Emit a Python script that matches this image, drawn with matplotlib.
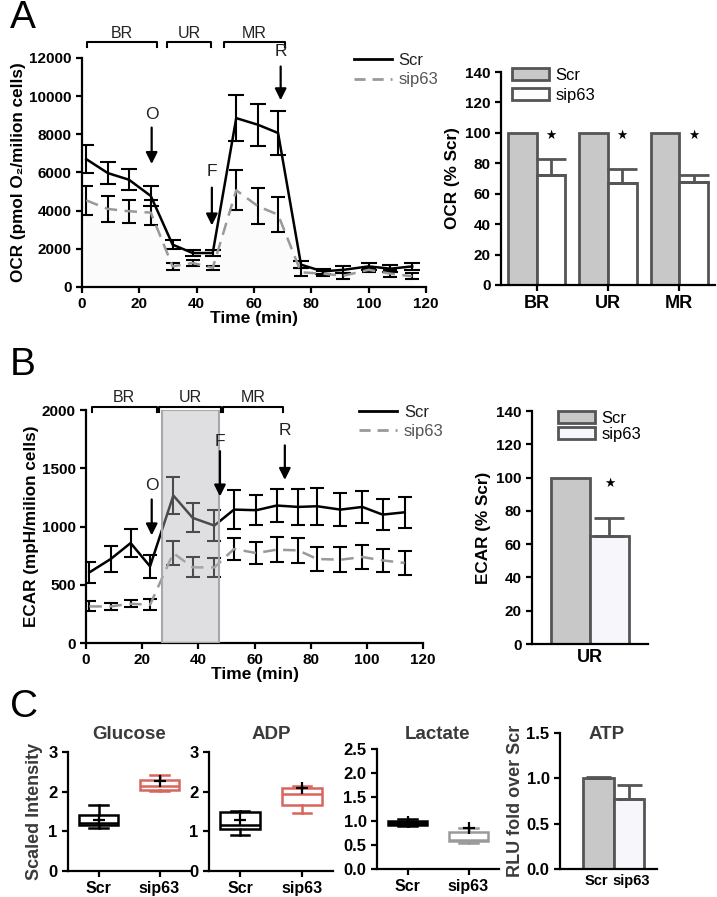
import matplotlib
matplotlib.use('Agg')
import matplotlib.pyplot as plt
from matplotlib.lines import Line2D
import numpy as np

plt.rcParams['font.family'] = ['Liberation Sans', 'DejaVu Sans']
plt.rcParams['axes.linewidth'] = 1.6
plt.rcParams['xtick.major.width'] = 1.6
plt.rcParams['ytick.major.width'] = 1.6
plt.rcParams['xtick.major.size'] = 4
plt.rcParams['ytick.major.size'] = 4

# --- panel A: OCR kinetic trace
ocr_time = [1.5, 9, 16.4, 24, 31.6, 38.6, 45.6, 53.8, 61.4, 68.4, 76.4, 83.9, 91.2, 100, 107.6, 115.2]
ocr_scr = [6700, 5970, 5620, 4770, 2220, 1780, 1780, 8850, 8500, 8070, 1170, 820, 900, 1080, 960, 1080]
ocr_scr_err = [750, 570, 540, 520, 250, 150, 150, 1200, 1100, 1150, 200, 120, 180, 180, 200, 200]
ocr_sip = [4540, 4090, 3970, 3900, 1080, 1260, 1000, 5070, 4230, 3790, 770, 700, 590, 900, 700, 560]
ocr_sip_err = [750, 700, 600, 640, 200, 150, 100, 1050, 950, 900, 200, 120, 150, 120, 180, 150]

# --- panel A: OCR % of Scr
ocr_groups = ['BR', 'UR', 'MR']
ocr_pct_scr = [100, 100, 100]
ocr_pct_sip = [72, 67, 68]
ocr_pct_sip_err = [11, 9, 4]

# --- panel B: ECAR kinetic trace
ecar_time = [1.2, 8.8, 15.9, 22.8, 31.1, 38, 45.7, 52.7, 60.7, 67.9, 75.6, 82.3, 90.6, 98.4, 105.6, 113.5]
ecar_scr = [606, 721, 858, 658, 1266, 1074, 1008, 1145, 1140, 1180, 1168, 1174, 1145, 1168, 1102, 1122]
ecar_scr_err = [90, 110, 120, 100, 160, 125, 130, 165, 130, 145, 155, 160, 140, 140, 130, 135]
ecar_sip = [314, 314, 337, 328, 772, 649, 649, 807, 772, 801, 795, 721, 715, 738, 709, 687]
ecar_sip_err = [43, 30, 30, 48, 105, 85, 80, 95, 92, 110, 110, 105, 105, 100, 100, 100]

# --- panel B: ECAR % of Scr
ecar_groups = ['UR']
ecar_pct_scr = [100]
ecar_pct_sip = [65]
ecar_pct_sip_err = [10.5]

# --- panel C: box stats (whislo, q1, med, q3, whishi, mean)
box_labels = ['Scr', 'sip63']
glucose_scr = [1.09, 1.15, 1.22, 1.40, 1.67, 1.28]
glucose_sip = [2.02, 2.03, 2.15, 2.29, 2.41, 2.27]
adp_scr = [0.90, 1.05, 1.15, 1.50, 1.52, 1.29]
adp_sip = [1.45, 1.67, 1.94, 2.09, 2.15, 2.08]
lactate_scr = [0.89, 0.91, 0.96, 1.01, 1.04, 0.97]
lactate_sip = [0.55, 0.59, 0.60, 0.77, 0.86, 0.85]

# --- panel C: ATP
atp_vals = [1.0, 0.77]
atp_err = [0.01, 0.155]

W, H = 717, 897
fig = plt.figure(figsize=(W / 100, H / 100), dpi=100)
TXT = '#3a3a3a'


def add_ax(l, t, r, b):
    # pixel box -> figure fraction
    return fig.add_axes([l / W, 1 - b / H, (r - l) / W, (b - t) / H])


def style(ax, size=11):
    for s in ['top', 'right']:
        ax.spines[s].set_visible(False)
    ax.tick_params(labelsize=size)
    for lab in ax.get_xticklabels() + ax.get_yticklabels():
        lab.set_fontweight('bold')


def bracket(ax, x0, x1, y_top, y_low, y_text, label):
    ax.plot([x0, x0, x1, x1], [y_low, y_top, y_top, y_low], color='black', lw=1.5, clip_on=False, zorder=10)
    ax.text((x0 + x1) / 2, y_text, label, ha='center', va='center', fontsize=11.5, color='#222222')


def arrow(ax, x, y_tail, y_tip, y_text, label):
    ax.annotate('', xy=(x, y_tip), xytext=(x, y_tail),
                arrowprops=dict(arrowstyle='-|>', color='black', lw=1.6, mutation_scale=17),
                annotation_clip=False, zorder=10)
    ax.text(x, y_text, label, ha='center', va='center', fontsize=12.5, color='#222222', zorder=10)


def line_legend(ax, anchor):
    h = [Line2D([], [], color='black', lw=2),
         Line2D([], [], color='#999999', lw=2, ls=(0, (4, 2.5)))]
    ax.legend(h, ['Scr', 'sip63'], loc='upper left', bbox_to_anchor=anchor, frameon=False,
              fontsize=12, handlelength=2.3, borderaxespad=0, labelspacing=0.25, handletextpad=0.4,
              labelcolor=['#222222', '#555555'])


# ================= A left =================
ax = add_ax(82, 58, 426, 287)
ax.fill_between(ocr_time, ocr_sip, 0, color='#fbfbfb', zorder=0)
ax.errorbar(ocr_time, ocr_sip, yerr=ocr_sip_err, color='#999999', ls=(0, (5, 3)), lw=1.8,
            ecolor='black', elinewidth=1.5, capsize=5, capthick=1.5)
ax.errorbar(ocr_time, ocr_scr, yerr=ocr_scr_err, color='black', lw=1.8,
            ecolor='black', elinewidth=1.5, capsize=6, capthick=1.5)
ax.set_xlim(0, 120)
ax.set_ylim(0, 12000)
ax.set_xticks(range(0, 121, 20))
ax.set_yticks(range(0, 12001, 2000))
ax.set_xlabel('Time (min)', fontsize=12.5, fontweight='bold', labelpad=0)
ax.set_ylabel('OCR (pmol O\u2082/milion cells)', fontsize=12.3, fontweight='bold', labelpad=2)
style(ax)
bracket(ax, 1.8, 26.3, 12820, 12600, 13260, 'BR')
bracket(ax, 29.8, 45, 12820, 12600, 13260, 'UR')
bracket(ax, 49.5, 70.8, 12820, 12600, 13260, 'MR')
arrow(ax, 24.3, 8500, 6300, 9050, 'O')
arrow(ax, 45.3, 5350, 3080, 6070, 'F')
arrow(ax, 69.3, 11700, 9640, 12350, 'R')
line_legend(ax, (0.77, 1.05))

# ================= A right =================
ax = add_ax(501, 72, 715, 285)
x = np.arange(len(ocr_groups))
ax.bar(x - 0.2, ocr_pct_scr, 0.4, color='#c8c8c8', edgecolor='#555555', lw=2, label='Scr')
ax.bar(x + 0.2, ocr_pct_sip, 0.4, color='white', edgecolor='#555555', lw=2, label='sip63',
       yerr=[np.zeros(3), ocr_pct_sip_err], error_kw=dict(ecolor='#555555', elinewidth=2, capsize=11, capthick=2))
for xi in x:
    ax.text(xi + 0.2, 98, '\u2605', ha='center', va='center', fontsize=9, family='DejaVu Sans')
ax.set_xlim(-0.5, 2.5)
ax.set_ylim(0, 140)
ax.set_xticks(x)
ax.set_xticklabels(ocr_groups)
ax.set_yticks(range(0, 141, 20))
ax.set_ylabel('OCR (% Scr)', fontsize=12.3, fontweight='bold')
style(ax)
ax.tick_params(axis='x', labelsize=13)
ax.legend(loc='upper left', bbox_to_anchor=(0.02, 1.05), frameon=False, fontsize=12,
          handlelength=2.2, handleheight=0.7, borderaxespad=0, labelspacing=0.3, handletextpad=0.4)

# ================= B left =================
ax = add_ax(86, 410, 423, 643)
ax.errorbar(ecar_time, ecar_sip, yerr=ecar_sip_err, color='#999999', ls=(0, (5, 3)), lw=1.8,
            ecolor='black', elinewidth=1.5, capsize=5, capthick=1.5)
ax.errorbar(ecar_time, ecar_scr, yerr=ecar_scr_err, color='black', lw=1.8,
            ecolor='black', elinewidth=1.5, capsize=5, capthick=1.5)
ax.axvspan(27.2, 47.3, ymin=0, ymax=1, facecolor=(0.70, 0.71, 0.73, 0.42),
           edgecolor='#a8a8a8', lw=1.5, zorder=5)
ax.set_xlim(0, 120)
ax.set_ylim(0, 2000)
ax.set_xticks(range(0, 121, 20))
ax.set_yticks(range(0, 2001, 500))
ax.set_xlabel('Time (min)', fontsize=12.5, fontweight='bold', labelpad=0)
ax.set_ylabel('ECAR (mpH/milion cells)', fontsize=12.3, fontweight='bold', labelpad=2)
style(ax)
bracket(ax, 2, 25.2, 2025, 1985, 2110, 'BR')
bracket(ax, 26.1, 47.9, 2025, 1985, 2110, 'UR')
bracket(ax, 48.9, 70.2, 2025, 1985, 2110, 'MR')
arrow(ax, 23.4, 1256, 900, 1348, 'O')
arrow(ax, 47.7, 1670, 1234, 1728, 'F')
arrow(ax, 70.8, 1720, 1376, 1820, 'R')
line_legend(ax, (0.79, 1.05))

# ================= B right =================
ax = add_ax(532, 411, 648, 644)
ax.bar([-0.25], ecar_pct_scr, 0.5, color='#c8c8c8', edgecolor='#555555', lw=2, label='Scr')
ax.bar([0.25], ecar_pct_sip, 0.5, color='#f7f7fb', edgecolor='#555555', lw=2, label='sip63',
       yerr=[[0], ecar_pct_sip_err], error_kw=dict(ecolor='#555555', elinewidth=2, capsize=11, capthick=2))
ax.text(0.25, 96.5, '\u2605', ha='center', va='center', fontsize=9, family='DejaVu Sans')
ax.set_xlim(-0.75, 0.75)
ax.set_ylim(0, 140)
ax.set_xticks([0])
ax.set_xticklabels(ecar_groups)
ax.set_yticks(range(0, 141, 20))
ax.set_ylabel('ECAR (% Scr)', fontsize=12.3, fontweight='bold')
style(ax)
ax.tick_params(axis='x', labelsize=13, length=0)
ax.legend(loc='upper left', bbox_to_anchor=(0.17, 1.03), frameon=False, fontsize=12,
          handlelength=2.2, handleheight=0.7, borderaxespad=0, labelspacing=0.05, handletextpad=0.4)


# ================= C boxes =================
def stats(v):
    return dict(whislo=v[0], q1=v[1], med=v[2], q3=v[3], whishi=v[4], mean=v[5], fliers=[])


def boxes(ax, data, colors, fills, title, ymax, step, fmt):
    for i, (d, c, f) in enumerate(zip(data, colors, fills)):
        ax.bxp([stats(d)], positions=[i], widths=0.65, showmeans=True, capwidths=0.3,
               patch_artist=True, manage_ticks=False,
               boxprops=dict(facecolor=f, edgecolor=c, lw=1.8),
               whiskerprops=dict(color=c, lw=1.8), capprops=dict(color=c, lw=1.8),
               medianprops=dict(color=c, lw=1.8),
               meanprops=dict(marker='+', markeredgecolor='black', markersize=8, markeredgewidth=1.6))
    ax.set_xlim(-0.5, 1.5)
    ax.set_ylim(0, ymax)
    ax.set_xticks([0, 1])
    ax.set_xticklabels(box_labels)
    ticks = np.arange(0, ymax + 1e-9, step)
    ax.set_yticks(ticks)
    ax.set_yticklabels([fmt.format(t) for t in ticks])
    # titles sit on one common row
    fig.text(ax.get_position().x0 + ax.get_position().width / 2, 1 - 734 / H, title,
             ha='center', va='center', fontsize=13.5, fontweight='bold', color=TXT)
    style(ax, 12)
    ax.tick_params(axis='x', labelsize=11.5)


red = '#d9655f'
ax = add_ax(68, 752, 190, 871)
boxes(ax, [glucose_scr, glucose_sip], ['black', red], ['white', 'white'], 'Glucose', 3, 1, '{:.0f}')
ax.set_ylabel('Scaled Intensity', fontsize=13, fontweight='bold', color=TXT, labelpad=4)

ax = add_ax(209, 752, 333, 871)
boxes(ax, [adp_scr, adp_sip], ['black', red], ['white', 'white'], 'ADP', 3, 1, '{:.0f}')

ax = add_ax(377, 749, 499, 869)
boxes(ax, [lactate_scr, lactate_sip], ['black', '#9a9a9a'], ['black', 'white'], 'Lactate', 2.5, 0.5, '{:.1f}')

# ================= C ATP =================
ax = add_ax(560, 733, 657, 869)
ax.bar([0, 1], atp_vals, 1.0, color=['#c8c8c8', '#f7f7fb'], edgecolor='#555555', lw=2,
       yerr=[[0, 0], atp_err], error_kw=dict(ecolor='#555555', elinewidth=2, capsize=9, capthick=2))
ax.set_xlim(-1.26, 1.92)
ax.set_ylim(0, 1.5)
ax.set_xticks([-0.08, 1.08])
ax.set_xticklabels(box_labels)
ax.set_yticks([0, 0.5, 1.0, 1.5])
ax.set_yticklabels(['0.0', '0.5', '1.0', '1.5'])
ax.set_ylabel('RLU fold over Scr', fontsize=13, fontweight='bold', color=TXT, labelpad=2)
style(ax, 12)
ax.tick_params(axis='x', labelsize=10.5, length=0)
fig.text(607 / W, 1 - 734 / H, 'ATP', ha='center', va='center', fontsize=13.5, fontweight='bold', color=TXT)

# panel letters
fig.text(10 / W, 1 - 18 / H, 'A', fontsize=28, va='center', ha='left')
fig.text(10 / W, 1 - 365 / H, 'B', fontsize=28, va='center', ha='left')
fig.text(10 / W, 1 - 707 / H, 'C', fontsize=28, va='center', ha='left')

fig.savefig('out.png', dpi=100)
